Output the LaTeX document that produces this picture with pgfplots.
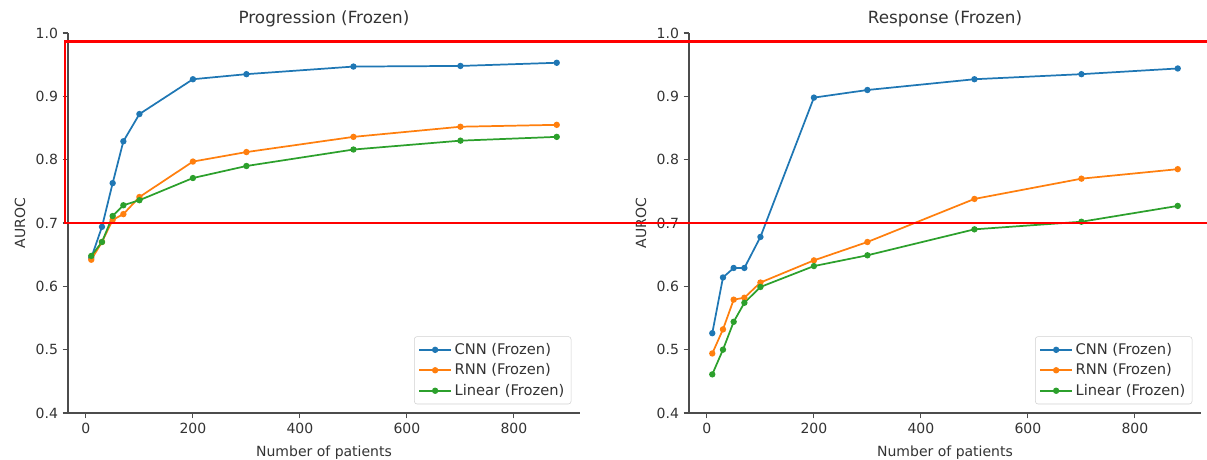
\documentclass[border=0pt]{standalone}
\usepackage{fontspec}
\setmainfont{DejaVu Sans}
\usepackage{pgfplots}
\pgfplotsset{compat=1.18}
\definecolor{tabblue}{HTML}{1F77B4}
\definecolor{taborange}{HTML}{FF7F0E}
\definecolor{tabgreen}{HTML}{2CA02C}
\definecolor{txt}{HTML}{333333}
\pgfplotsset{
  myax/.style={
    scale only axis, width=384pt, height=285pt,
    xmin=-33.5, xmax=923.5, ymin=0.4, ymax=1.0,
    axis x line*=bottom, axis y line*=left,
    axis line style={draw=black!70, line width=0.8pt},
    xtick={0,200,400,600,800}, ytick={0.4,0.5,...,1.0},
    yticklabel style={/pgf/number format/.cd,fixed,fixed zerofill,precision=1},
    /pgf/number format/assume math mode=true,
    tick style={draw=black!70, line width=0.8pt},
    major tick length=4pt, tick align=outside,
    ticklabel style={font=\fontsize{10.5}{12}\selectfont, text=txt},
    label style={font=\fontsize{10.5}{12}\selectfont, text=txt},
    title style={font=\fontsize{12.6}{14}\selectfont, text=txt, yshift=-5pt},
    xlabel={Number of patients}, ylabel={AUROC},
    xlabel style={yshift=-2pt},
    ylabel style={yshift=1pt},
    every axis plot/.append style={line width=1.3pt, mark=*, mark size=1.7pt},
    legend style={at={(0.983,0.023)}, anchor=south east, draw=black!18, rounded corners=2pt,
      font=\fontsize{11}{12.5}\selectfont, text=txt, cells={anchor=west},
      row sep=1.5pt, inner sep=3pt},
    legend image code/.code={\draw[mark repeat=2,mark phase=2] plot coordinates {(0cm,0cm)(0.42cm,0cm)(0.84cm,0cm)};},
    clip=false,
  }
}
\begin{document}
\begin{tikzpicture}
\useasboundingbox (-51pt,-35.25pt) rectangle (854.25pt,309.75pt);
\begin{axis}[myax, title={Progression (Frozen)}]
\addplot[color=tabblue, mark options={fill=tabblue}] coordinates {(10,0.645)(30,0.694)(50,0.763)(70,0.829)(100,0.872)(200,0.927)(300,0.935)(500,0.947)(700,0.948)(880,0.953)};
\addlegendentry{CNN (Frozen)}
\addplot[color=taborange, mark options={fill=taborange}] coordinates {(10,0.642)(30,0.670)(50,0.705)(70,0.714)(100,0.741)(200,0.797)(300,0.812)(500,0.836)(700,0.852)(880,0.855)};
\addlegendentry{RNN (Frozen)}
\addplot[color=tabgreen, mark options={fill=tabgreen}] coordinates {(10,0.648)(30,0.670)(50,0.711)(70,0.728)(100,0.736)(200,0.771)(300,0.790)(500,0.816)(700,0.830)(880,0.836)};
\addlegendentry{Linear (Frozen)}
\coordinate (RTL) at (axis cs:-39,0.987);
\coordinate (RBL) at (axis cs:-39,0.70);
\end{axis}
\begin{axis}[myax, xshift=465.75pt, title={Response (Frozen)}]
\addplot[color=tabblue, mark options={fill=tabblue}] coordinates {(10,0.526)(30,0.614)(50,0.629)(70,0.629)(100,0.678)(200,0.898)(300,0.910)(500,0.927)(700,0.935)(880,0.944)};
\addlegendentry{CNN (Frozen)}
\addplot[color=taborange, mark options={fill=taborange}] coordinates {(10,0.494)(30,0.532)(50,0.579)(70,0.582)(100,0.606)(200,0.641)(300,0.670)(500,0.738)(700,0.770)(880,0.785)};
\addlegendentry{RNN (Frozen)}
\addplot[color=tabgreen, mark options={fill=tabgreen}] coordinates {(10,0.461)(30,0.500)(50,0.544)(70,0.574)(100,0.599)(200,0.632)(300,0.649)(500,0.690)(700,0.702)(880,0.727)};
\addlegendentry{Linear (Frozen)}
\end{axis}
\draw[red, line width=2pt] (RTL) ++(900pt,0) -- (RTL) -- (RBL) -- ++(900pt,0);
\end{tikzpicture}
\end{document}
